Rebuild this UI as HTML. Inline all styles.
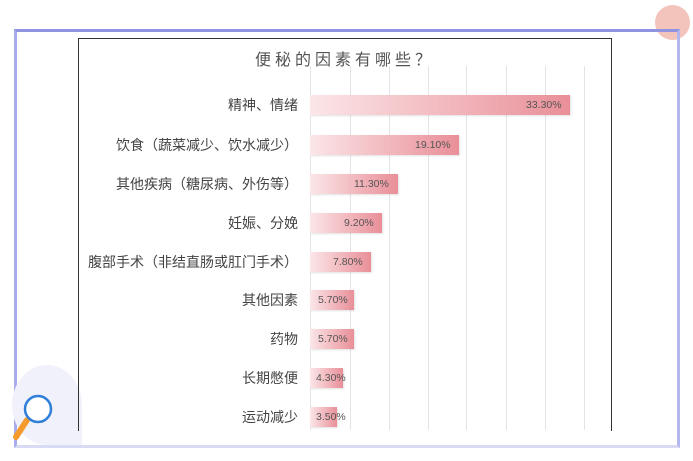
<!DOCTYPE html>
<html><head><meta charset="utf-8"><style>
body{margin:0;width:693px;height:461px;background:#fff;position:relative;overflow:hidden;font-family:"Liberation Sans","Noto Sans CJK SC",sans-serif}
.frame{position:absolute;left:14px;top:29px;width:660px;height:413px;border-top:3px solid #8f93e0;border-left:3px solid #a9acec;border-right:3px solid #b4b7ee;border-bottom:3px solid #d9dbf5}
.dot{position:absolute;left:655px;top:5px;width:35px;height:35px;border-radius:50%;background:#f2c4bb}
.chart{position:absolute;left:78px;top:38px;width:532px;height:392px;border:1px solid #333;border-bottom:none}
.title{position:absolute;left:78px;width:534px;top:46px;text-align:center;font-size:16px;letter-spacing:4px;color:#555}
.g{position:absolute;top:66px;height:364px;width:1px;background:#e4e4e8}
.lab{position:absolute;right:395px;font-size:14px;color:#444;white-space:nowrap;line-height:20px}
.bar{position:absolute;left:310px;height:20px;background:linear-gradient(90deg,#fbe6e8,#e98f98);box-shadow:1px 1px 2px rgba(0,0,0,.12)}
.v{position:absolute;font-size:10.5px;color:#555;line-height:20px}
.blob{position:absolute;left:12px;top:365px;width:70px;height:80px;border-radius:50% 50% 0 50%;background:#f0f1fb}
</style></head><body>
<div class="dot"></div>
<div class="frame"></div>
<div class="blob"></div>
<div class="chart"></div>
<div class="title">便秘的因素有哪些？</div>
<div class="g" style="left:310px"></div><div class="g" style="left:350px"></div><div class="g" style="left:389px"></div><div class="g" style="left:428px"></div><div class="g" style="left:466px"></div><div class="g" style="left:506px"></div><div class="g" style="left:545px"></div><div class="g" style="left:584px"></div>

<div class="lab" style="top:95px">精神、情绪</div><div class="bar" style="top:95px;width:260px"></div><div class="v" style="top:95px;left:526px">33.30%</div>
<div class="lab" style="top:135px">饮食（蔬菜减少、饮水减少）</div><div class="bar" style="top:135px;width:149px"></div><div class="v" style="top:135px;left:415px">19.10%</div>
<div class="lab" style="top:174px">其他疾病（糖尿病、外伤等）</div><div class="bar" style="top:174px;width:88px"></div><div class="v" style="top:174px;left:354px">11.30%</div>
<div class="lab" style="top:213px">妊娠、分娩</div><div class="bar" style="top:213px;width:72px"></div><div class="v" style="top:213px;left:344px">9.20%</div>
<div class="lab" style="top:252px">腹部手术（非结直肠或肛门手术）</div><div class="bar" style="top:252px;width:61px"></div><div class="v" style="top:252px;left:333px">7.80%</div>
<div class="lab" style="top:290px">其他因素</div><div class="bar" style="top:290px;width:44px"></div><div class="v" style="top:290px;left:318px">5.70%</div>
<div class="lab" style="top:329px">药物</div><div class="bar" style="top:329px;width:44px"></div><div class="v" style="top:329px;left:318px">5.70%</div>
<div class="lab" style="top:368px">长期憋便</div><div class="bar" style="top:368px;width:33px"></div><div class="v" style="top:368px;left:316px">4.30%</div>
<div class="lab" style="top:407px">运动减少</div><div class="bar" style="top:407px;width:27px"></div><div class="v" style="top:407px;left:316px">3.50%</div>

<svg style="position:absolute;left:10px;top:392px" width="50" height="55">
<line x1="17" y1="28" x2="6" y2="45" stroke="#f59a2c" stroke-width="6" stroke-linecap="round"/>
<circle cx="28" cy="17" r="13" fill="#fff" stroke="#2f7fd8" stroke-width="2.5"/>
</svg>
</body></html>
